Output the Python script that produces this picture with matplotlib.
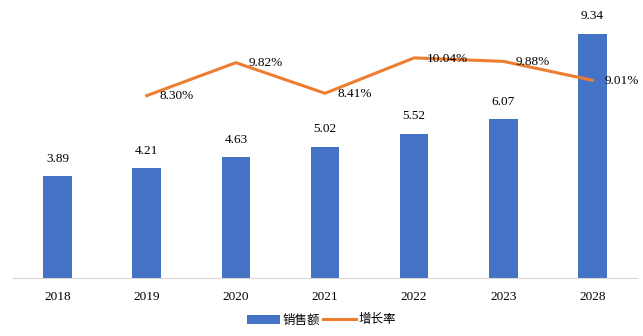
import matplotlib.pyplot as plt

years = ["2018", "2019", "2020", "2021", "2022", "2023", "2028"]
sales = [3.89, 4.21, 4.63, 5.02, 5.52, 6.07, 9.34]
growth_years = ["2019", "2020", "2021", "2022", "2023", "2028"]
growth = [8.30, 9.82, 8.41, 10.04, 9.88, 9.01]

plt.rcParams['font.family'] = ['Liberation Serif', 'Noto Sans CJK SC']

fig = plt.figure(figsize=(6.43, 3.36), dpi=100)
ax = fig.add_axes([13/643, 58/336, 624/643, 267/336])
x = list(range(len(years)))
bars = ax.bar(x, sales, width=0.32, color="#4472C4", label="销售额", zorder=2)
for xi, v in zip(x, sales):
    ax.annotate(f"{v:.2f}", (xi, v), xytext=(0, 8), textcoords="offset points",
                ha="center", va="bottom", fontsize=9.5)
ax.set_ylim(0, 10.2)
ax.set_xlim(-0.5, len(years) - 0.5)
ax.set_xticks(x)
ax.set_xticklabels(years, fontsize=9.5)
ax.tick_params(axis="x", length=0, pad=9)
ax.set_yticks([])
for s in ["top", "right", "left"]:
    ax.spines[s].set_visible(False)
ax.spines["bottom"].set_color("#D9D9D9")

ax2 = ax.twinx()
gx = [years.index(y) for y in growth_years]
line, = ax2.plot(gx, growth, color="#ED7D31", linewidth=2.2, label="增长率", zorder=3)
for xi, v in zip(gx, growth):
    ax2.annotate(f"{v:.2f}%", (xi, v), xytext=(9, -0.5), textcoords="offset points",
                 ha="left", va="center", fontsize=9.5)
ax2.set_ylim(-0.1, 12.2)
ax2.set_yticks([])
for s in ["top", "right", "left", "bottom"]:
    ax2.spines[s].set_visible(False)

fig.legend([bars, line], ["销售额", "增长率"], loc="center", bbox_to_anchor=(0.5, 16/336),
           ncol=2, frameon=False, prop={"family": ["Noto Sans CJK SC"], "size": 9},
           handlelength=2.6, handleheight=0.7, columnspacing=0.3, handletextpad=0.2)

fig.savefig("out.png", dpi=100)
